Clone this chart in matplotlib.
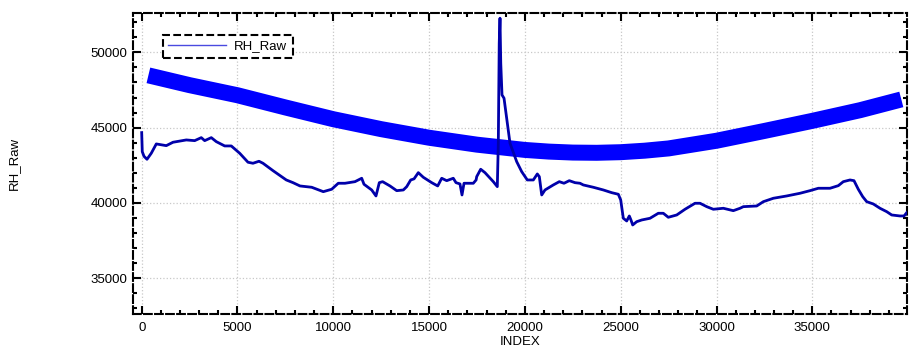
import matplotlib
matplotlib.use("Agg")
import matplotlib.pyplot as plt
from matplotlib.lines import Line2D
from matplotlib.ticker import MultipleLocator

plt.rcParams['font.family'] = ['Liberation Sans', 'DejaVu Sans']

# RH_Raw series (index, value)
rh_index = [0, 30, 120, 277, 500, 762, 1284, 1634, 2328, 2766, 3110, 3288, 3633, 3894,
            4332, 4676, 5115, 5548, 5808, 6122, 6330, 6853, 7547, 7897, 8262, 8873,
            9478, 9916, 10260, 10610, 11132, 11482, 11602, 12004, 12228, 12401, 12575,
            12959, 13309, 13656, 13831, 14040, 14214, 14437, 14697, 15136, 15449, 15658,
            15918, 16263, 16403, 16612, 16717, 16822, 17307, 17453, 17484, 17693, 17917,
            18351, 18560, 18612, 18660, 18700, 18740, 18805, 18910, 19222, 19572, 19833,
            20125, 20440, 20648, 20753, 20877, 21049, 21482, 21795, 22040, 22317, 22614,
            22876, 23048, 23570, 24093, 24530, 24875, 25000, 25136, 25313, 25449, 25535,
            25626, 25835, 26096, 26529, 26962, 27223, 27484, 27923, 28356, 28878, 29139,
            29489, 29834, 30356, 30877, 31226, 31400, 32098, 32444, 32966, 33664, 34358,
            34880, 35313, 35924, 36357, 36618, 36967, 37175, 37400, 37630, 37839, 38184,
            38533, 38883, 39144, 39578, 39787, 39927]
rh_values = [44670, 43406, 43100, 42900, 43300, 43918, 43805, 44030, 44183, 44137, 44336,
             44137, 44336, 44070, 43785, 43785, 43300, 42703, 42636, 42769, 42636, 42145,
             41527, 41348, 41129, 41042, 40750, 40910, 41308, 41308, 41414, 41640, 41242,
             40863, 40465, 41348, 41414, 41129, 40817, 40863, 41082, 41527, 41600, 42012,
             41706, 41348, 41129, 41640, 41480, 41640, 41348, 41262, 40531, 41308, 41308,
             41527, 41746, 42238, 42012, 41414, 41082, 43964, 50604, 52264, 49276, 47171,
             46952, 43964, 42742, 42078, 41527, 41527, 41926, 41746, 40531, 40863, 41196,
             41414, 41308, 41480, 41348, 41308, 41196, 41042, 40863, 40684, 40578, 40200,
             38984, 38805, 39137, 38871, 38540, 38758, 38871, 38984, 39316, 39316, 39050,
             39203, 39582, 39980, 39980, 39755, 39582, 39648, 39489, 39648, 39755, 39800,
             40086, 40312, 40465, 40644, 40817, 40976, 40976, 41149, 41414, 41527, 41480,
             40910, 40419, 40086, 39933, 39648, 39422, 39203, 39137, 39137, 39356]

# Thick trend band (index, value)
band_index = [350, 2500, 5000, 7500, 10000, 12500, 15000, 17500, 20000, 21250, 22500,
              23750, 25000, 26250, 27500, 30000, 32500, 35000, 37500, 39645]
band_values = [48470, 47820, 47150, 46340, 45560, 44900, 44330, 43870, 43520, 43410,
               43345, 43330, 43370, 43470, 43620, 44130, 44780, 45450, 46160, 46872]

series_label = "RH_Raw"
x_label = "INDEX"
y_label = "RH_Raw"

fig = plt.figure(figsize=(9.12, 3.51), dpi=100)
ax = fig.add_axes([0.1458, 0.1054, 0.849, 0.8576])

ax.plot(band_index, band_values, color='#0000FF', lw=11.5, solid_capstyle='butt',
        solid_joinstyle='round', zorder=2)
ax.plot(rh_index, rh_values, color='#0000AA', lw=2.0, zorder=3)

ax.set_xlim(-455, 39955)
ax.set_ylim(32630, 52610)
ax.xaxis.set_major_locator(MultipleLocator(5000))
ax.xaxis.set_minor_locator(MultipleLocator(1000))
ax.yaxis.set_major_locator(MultipleLocator(5000))
ax.yaxis.set_minor_locator(MultipleLocator(1000))

ax.grid(True, which='major', color='#c8c8c8', linestyle=':', linewidth=0.9, zorder=0)
ax.set_axisbelow(True)

ax.tick_params(which='both', direction='in', top=True, right=True, width=1.5,
               colors='black', labelsize=9.5)
ax.tick_params(which='major', length=5.5)
ax.tick_params(which='minor', length=3)
ax.tick_params(axis='x', pad=6)
ax.tick_params(axis='y', pad=4)

for sp in ax.spines.values():
    sp.set_linestyle('--')
    sp.set_linewidth(1.5)
    sp.set_color('black')

ax.set_xlabel(x_label, fontsize=9.5, labelpad=1)
ax.set_ylabel(y_label, fontsize=9.5)
ax.yaxis.set_label_coords(-0.146, 0.5)

handle = Line2D([], [], color='#4a4ae0', lw=1.0)
leg = ax.legend([handle], [series_label], loc='upper left',
                bbox_to_anchor=(0.0388, 0.927), borderaxespad=0, fontsize=9.5,
                handlelength=4.4, handletextpad=0.6, fancybox=False, frameon=True,
                borderpad=0.4)
fr = leg.get_frame()
fr.set_edgecolor('black')
fr.set_linestyle('--')
fr.set_linewidth(1.5)
fr.set_alpha(1)

fig.savefig('out.png', dpi=100)
